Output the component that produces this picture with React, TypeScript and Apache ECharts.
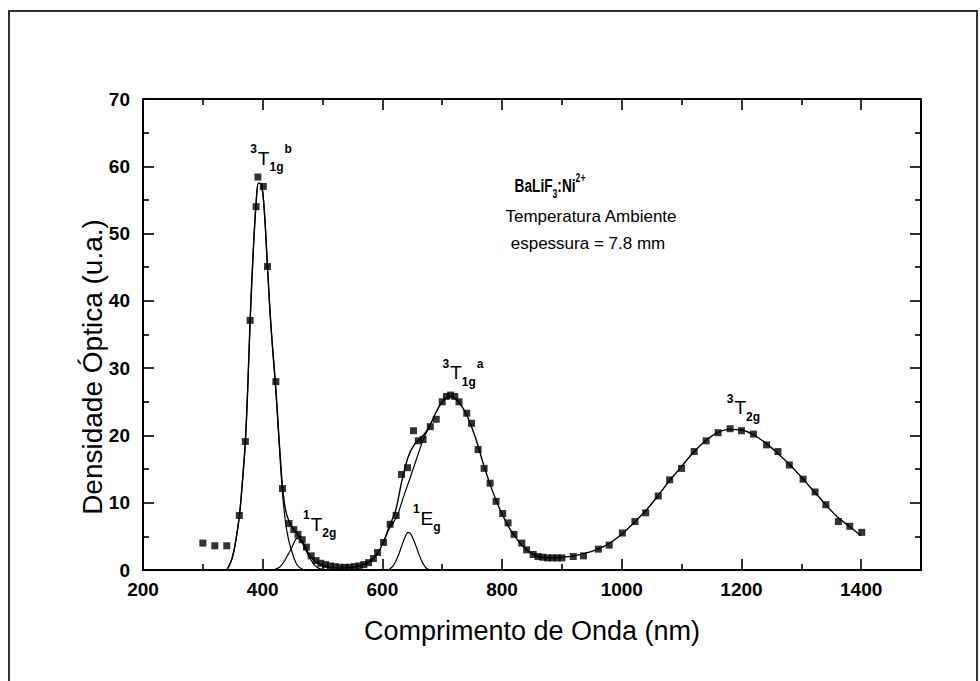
import { useEffect, useRef } from "react";
import * as echarts from "echarts";

const FONT = "'Liberation Sans', Arial, Helvetica, sans-serif";

// Measured optical density (wavelength nm, density a.u.)
const measured: number[][] = [
  [300, 4.0], [320, 3.6], [340, 3.6], [361, 8.1], [371, 19.1], [379, 37.1],
  [389, 54.0], [392, 58.4], [401, 57.0], [408, 45.1], [422, 28.0], [433, 12.1],
  [444, 6.9], [452, 6.0], [459, 5.3], [466, 4.5], [473, 3.4], [481, 2.1],
  [489, 1.4], [497, 1.0], [505, 0.8], [513, 0.6], [521, 0.5], [529, 0.4],
  [537, 0.4], [545, 0.4], [553, 0.5], [561, 0.6], [569, 0.8], [577, 1.1],
  [585, 1.7], [592, 2.6], [602, 4.1], [613, 6.8], [623, 8.1], [632, 14.2],
  [642, 15.2], [652, 20.7], [660, 19.2], [668, 19.4], [680, 21.3], [690, 22.4],
  [700, 25.0], [707, 25.8], [714, 26.0], [721, 25.8], [728, 25.0], [741, 23.3],
  [749, 21.8], [760, 17.9], [770, 15.1], [780, 12.9], [790, 10.2], [801, 8.4],
  [810, 7.0], [820, 5.3], [833, 4.0], [841, 3.0], [852, 2.3], [860, 2.0],
  [868, 1.9], [876, 1.8], [884, 1.8], [892, 1.8], [900, 1.8], [919, 2.0],
  [936, 2.1], [961, 3.1], [979, 3.7], [1001, 5.5], [1022, 7.2], [1040, 8.5],
  [1061, 11.0], [1080, 13.4], [1100, 15.1], [1121, 17.6], [1141, 19.2],
  [1161, 20.4], [1181, 21.0], [1200, 20.7], [1220, 20.2], [1242, 18.6],
  [1261, 17.6], [1280, 15.6], [1303, 13.5], [1323, 11.6], [1341, 9.7],
  [1362, 7.2], [1381, 6.5], [1401, 5.6],
];

// Total fitted curve
const totalFit: number[][] = [
  [340, 0], [348, 1.5], [354, 3.8], [361, 8], [366, 13], [371, 19], [375, 27],
  [379, 37], [384, 47], [389, 54.5], [393, 57.5], [398, 57.3], [403, 53],
  [408, 45], [414, 36], [422, 27], [427, 20], [433, 12.5], [438, 9], [444, 7.2],
  [452, 6.0], [460, 5.1], [468, 4.0], [476, 2.6], [484, 1.6], [494, 0.9],
  [510, 0.5], [530, 0.3], [550, 0.4], [565, 0.7], [580, 1.3], [592, 2.5],
  [602, 4.2], [612, 6.6], [622, 8.8], [632, 13.0], [643, 16.8], [653, 18.6],
  [663, 19.5], [672, 20.4], [680, 21.6], [690, 23.5], [700, 25.0], [712, 25.8],
  [725, 25.2], [740, 23.2], [755, 19.8], [770, 15.4], [785, 11.5], [800, 8.3],
  [815, 5.8], [830, 4.0], [845, 2.7], [860, 2.0], [880, 1.8], [900, 1.9],
  [920, 2.1], [940, 2.5], [960, 3.1], [980, 4.0], [1000, 5.3], [1020, 7.0],
  [1040, 8.8], [1060, 11.0], [1080, 13.3], [1100, 15.4], [1120, 17.5],
  [1140, 19.2], [1160, 20.4], [1180, 20.9], [1200, 20.8], [1220, 20.1],
  [1240, 18.9], [1260, 17.4], [1280, 15.7], [1300, 13.8], [1320, 11.8],
  [1340, 9.8], [1360, 7.9], [1380, 6.5], [1400, 5.1],
];

// Gaussian components
const comp3T1gB: number[][] = [
  [340, 0], [348, 1.5], [354, 3.8], [361, 8], [366, 13], [371, 19], [375, 27],
  [379, 37], [384, 47], [389, 54.5], [393, 57.5], [398, 57.3], [403, 53],
  [408, 45], [414, 36], [422, 26.5], [427, 19.5], [433, 11.5], [438, 7.2],
  [443, 4.6], [448, 3.0], [453, 1.6], [458, 0.7], [465, 0.2], [472, 0],
];
const comp1T2g: number[][] = [
  [418, 0], [428, 0.4], [436, 1.3], [443, 2.4], [448, 3.2], [452, 4.0],
  [457, 4.7], [462, 4.5], [468, 3.7], [474, 2.6], [480, 1.6], [487, 0.7],
  [495, 0.2], [505, 0],
];
const comp1Eg: number[][] = [
  [610, 0], [618, 0.6], [626, 2.0], [634, 4.0], [640, 5.3], [643, 5.6],
  [647, 5.4], [653, 4.3], [660, 2.6], [667, 1.1], [673, 0.3], [680, 0],
];
const comp3T1gA: number[][] = [
  [602, 4.2], [612, 6.2], [624, 7.9], [635, 10.8], [646, 13.6], [657, 16.5],
  [668, 19.3], [680, 21.6],
];

// Peak labels (position in data coordinates)
const peakLabelPos: number[][] = [
  [414.7, 61.2], [496, 6.8], [675, 7.7], [735.5, 29.3], [1204, 24.1],
];
const peakLabelText: string[] = [
  "{sup|3}{main|T}{sub|1g}{sup|b}",
  "{sup|1}{main|T}{sub|2g}",
  "{sup|1}{main|E}{sub|g}",
  "{sup|3}{main|T}{sub|1g}{sup|a}",
  "{sup|3}{main|T}{sub|2g}",
];

const xTitle = "Comprimento de Onda (nm)";
const yTitle = "Densidade Óptica (u.a.)";

export default function App() {
  const ref = useRef<HTMLDivElement>(null);

  useEffect(() => {
    if (!ref.current) return;
    const chart = echarts.init(ref.current, null, { renderer: "svg" });

    const axisLine = { show: true, onZero: false, lineStyle: { color: "#000", width: 2 } };
    const tick = { show: true, inside: true, length: 11, lineStyle: { color: "#000", width: 1.6 } };
    const minor = { show: true, splitNumber: 2, length: 6, lineStyle: { color: "#000", width: 1.6 } };

    const lineSeries = (name: string, data: number[][], w: number) => ({
      name,
      type: "line",
      data,
      smooth: 0.35,
      showSymbol: false,
      symbol: "none",
      lineStyle: { color: "#000", width: w },
      z: 2,
      silent: true,
    });

    const option: any = {
      animation: false,
      backgroundColor: "#fff",
      textStyle: { fontFamily: FONT },
      grid: {
        left: 143, right: 59, top: 99, bottom: 111,
        containLabel: false, outerBoundsMode: "none",
      },
      xAxis: [
        {
          type: "value", min: 200, max: 1500, interval: 200, position: "bottom",
          axisLine, axisTick: tick, minorTick: minor, splitLine: { show: false },
          axisLabel: {
            fontSize: 19, fontWeight: "bold", color: "#000", margin: 10, fontFamily: FONT,
            showMaxLabel: false,
            formatter: (v: number) => (v > 1400 ? "" : String(v)),
          },
          name: xTitle, nameLocation: "middle", nameGap: 47,
          nameTextStyle: { fontSize: 27, color: "#000", fontFamily: FONT },
        },
        {
          type: "value", min: 200, max: 1500, interval: 200, position: "top",
          axisLine, axisTick: tick, minorTick: minor, splitLine: { show: false },
          axisLabel: { show: false },
        },
      ],
      yAxis: [
        {
          type: "value", min: 0, max: 70, interval: 10, position: "left",
          axisLine, axisTick: tick, minorTick: minor, splitLine: { show: false },
          axisLabel: {
            fontSize: 19, fontWeight: "bold", color: "#000", margin: 13, fontFamily: FONT,
            formatter: (v: number) => String(v),
          },
        },
        {
          type: "value", min: 0, max: 70, interval: 10, position: "right",
          axisLine, axisTick: tick, minorTick: minor, splitLine: { show: false },
          axisLabel: { show: false },
        },
      ],
      series: [
        lineSeries("Ajuste total", totalFit, 1.4),
        lineSeries("3T1g(b)", comp3T1gB, 1.2),
        lineSeries("1T2g", comp1T2g, 1.2),
        lineSeries("1Eg", comp1Eg, 1.2),
        lineSeries("3T1g(a)", comp3T1gA, 1.2),
        {
          name: "Medido",
          type: "scatter",
          data: measured,
          symbol: "rect",
          symbolSize: 7,
          itemStyle: { color: "#000" },
          z: 3,
          silent: true,
        },
      ],
      graphic: [
        {
          id: "frame",
          type: "rect",
          shape: { x: 9, y: 11, width: 968, height: 720 },
          style: { fill: "none", stroke: "#333", lineWidth: 2 },
          silent: true,
        },
        {
          id: "ytitle",
          type: "text",
          x: 92, y: 367, rotation: Math.PI / 2,
          style: {
            text: yTitle, fontSize: 28, fontFamily: FONT, fill: "#000",
            textAlign: "center", textVerticalAlign: "middle",
          },
        },
        {
          id: "sample",
          type: "text",
          x: 550, y: 186, scaleX: 0.72,
          style: {
            text: "{m|BaLiF}{s|3}{m|:Ni}{p|2+}",
            textAlign: "center", textVerticalAlign: "middle",
            rich: {
              m: { fontSize: 19, fontWeight: "bold", fontFamily: FONT, fill: "#000", lineHeight: 28, verticalAlign: "middle" },
              s: { fontSize: 12, fontWeight: "bold", fontFamily: FONT, fill: "#000", lineHeight: 12, verticalAlign: "bottom" },
              p: { fontSize: 12, fontWeight: "bold", fontFamily: FONT, fill: "#000", lineHeight: 12, verticalAlign: "top" },
            },
          },
        },
        {
          id: "temp",
          type: "text",
          x: 591, y: 216,
          style: {
            text: "Temperatura Ambiente", fontSize: 17, fontFamily: FONT, fill: "#000",
            textAlign: "center", textVerticalAlign: "middle",
          },
        },
        {
          id: "thick",
          type: "text",
          x: 588, y: 243,
          style: {
            text: "espessura = 7.8 mm", fontSize: 17, fontFamily: FONT, fill: "#000",
            textAlign: "center", textVerticalAlign: "middle",
          },
        },
      ],
    };

    chart.setOption(option);

    const peakRich = {
      main: { fontSize: 19, fontFamily: FONT, fill: "#000", lineHeight: 30, verticalAlign: "middle" },
      sup: { fontSize: 12, fontWeight: "bold", fontFamily: FONT, fill: "#000", lineHeight: 12, verticalAlign: "top", padding: [0, 1, 0, 0] },
      sub: { fontSize: 12, fontWeight: "bold", fontFamily: FONT, fill: "#000", lineHeight: 12, verticalAlign: "bottom", padding: [0, 1, 0, 0] },
    };
    const peakGraphics = peakLabelPos.map((p, i) => {
      const [px, py] = chart.convertToPixel({ xAxisIndex: 0, yAxisIndex: 0 }, p) as number[];
      return {
        id: "peak" + i,
        type: "text",
        x: px,
        y: py,
        silent: true,
        style: {
          text: peakLabelText[i],
          textAlign: "center",
          textVerticalAlign: "middle",
          rich: peakRich,
        },
      };
    });
    chart.setOption({ graphic: peakGraphics });

    return () => chart.dispose();
  }, []);

  return (
    <div
      ref={ref}
      style={{ position: "fixed", left: 0, top: 0, width: 980, height: 681, background: "#fff" }}
    />
  );
}
